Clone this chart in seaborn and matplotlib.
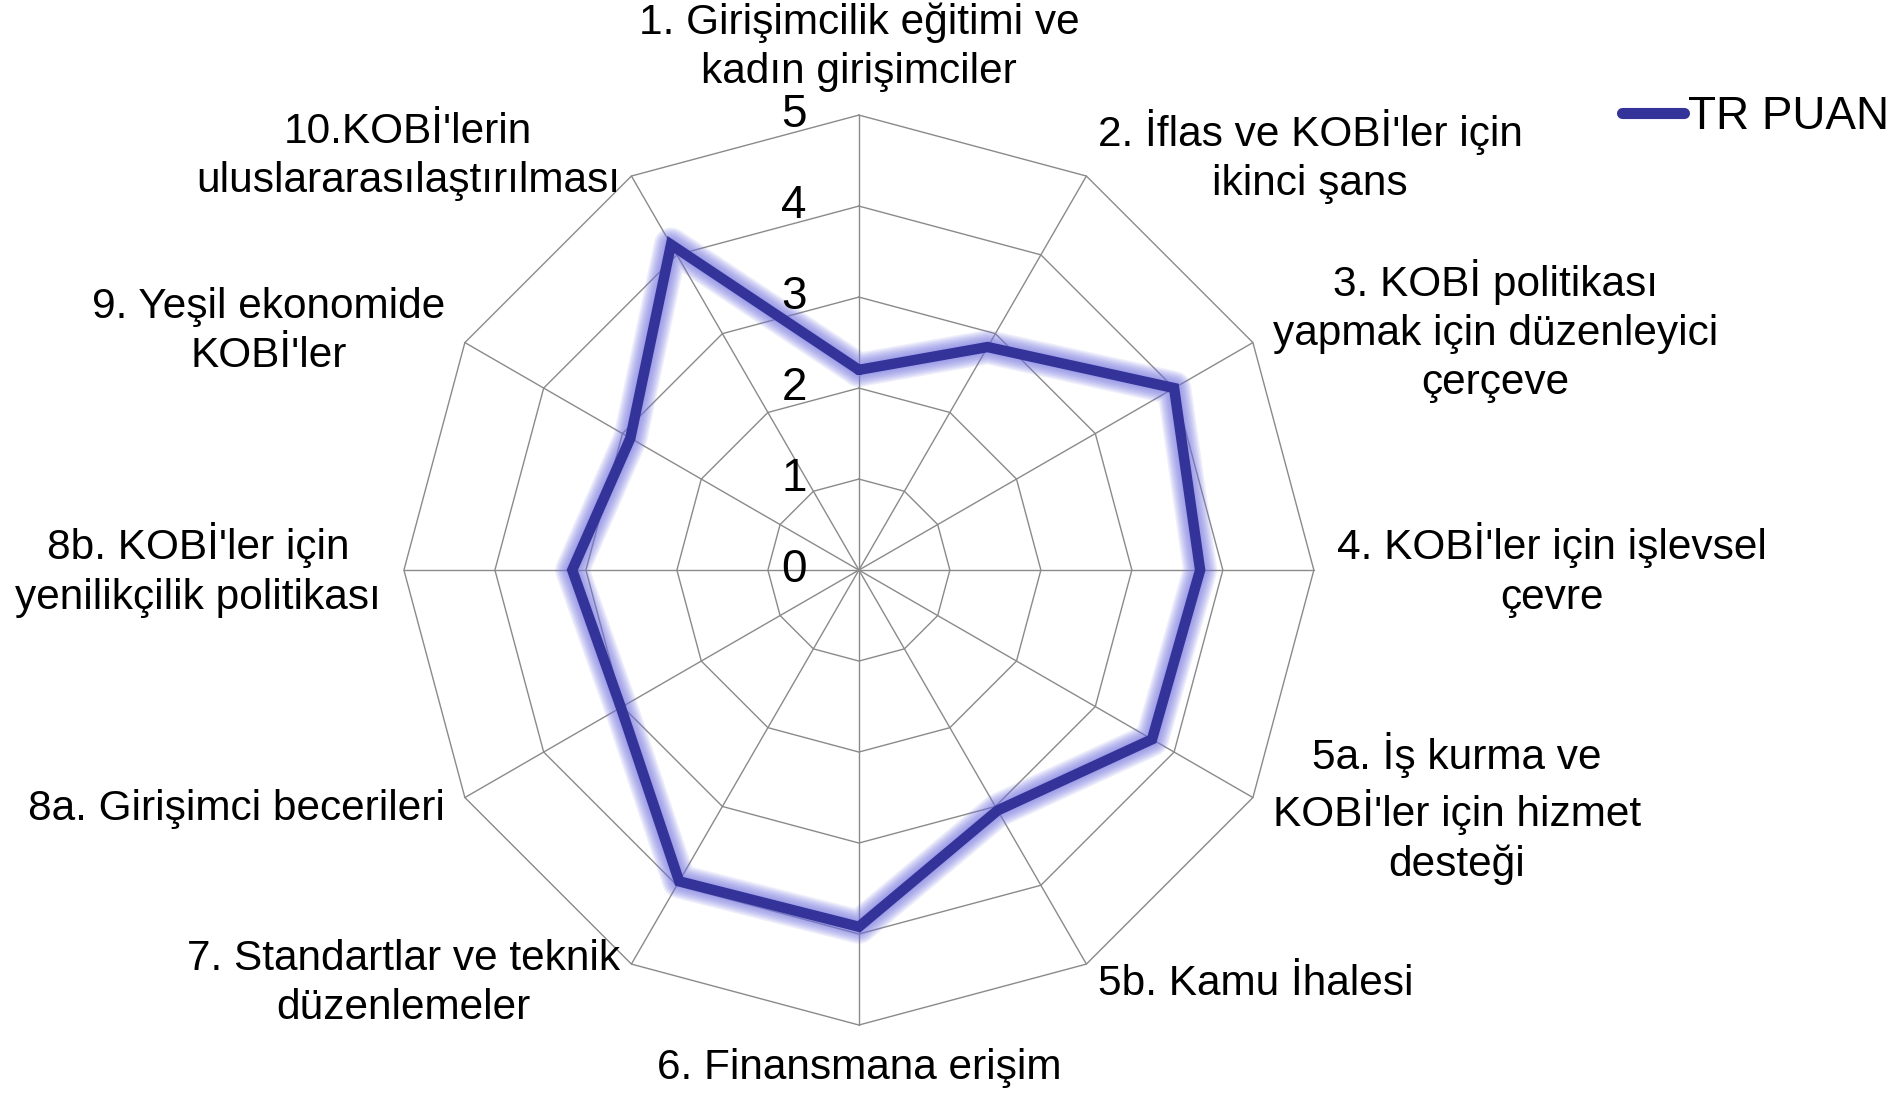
import numpy as np
import matplotlib
matplotlib.use("Agg")
import matplotlib.pyplot as plt
import seaborn as sns
from matplotlib.lines import Line2D

# Chart data
categories = [
    "1. Girişimcilik eğitimi ve\nkadın girişimciler",
    "2. İflas ve KOBİ'ler için\nikinci şans",
    "3. KOBİ politikası\nyapmak için düzenleyici\nçerçeve",
    "4. KOBİ'ler için işlevsel\nçevre",
    "5a. İş kurma ve\nKOBİ'ler için hizmet\ndesteği",
    "5b. Kamu İhalesi",
    "6. Finansmana erişim",
    "7. Standartlar ve teknik\ndüzenlemeler",
    "8a. Girişimci becerileri",
    "8b. KOBİ'ler için\nyenilikçilik politikası",
    "9. Yeşil ekonomide\nKOBİ'ler",
    "10.KOBİ'lerin\nuluslararasılaştırılması",
]
tr_puan = [2.2, 2.83, 4.0, 3.75, 3.72, 3.05, 3.92, 3.95, 3.02, 3.15, 2.9, 4.13]
r_ticks = [0, 1, 2, 3, 4, 5]
series_name = "TR PUAN"

sns.set_theme(style="white")
plt.rcParams["font.family"] = ["Liberation Sans", "DejaVu Sans"]

line_color = "#333399"
glow_color = "#6f6fe0"
grid_color = "#8a8a8a"

n = len(categories)
angles = np.linspace(0, 2 * np.pi, n, endpoint=False)
ang_closed = np.append(angles, angles[0])
val_closed = np.append(tr_puan, tr_puan[0])

fig = plt.figure(figsize=(18.91, 10.95), dpi=100)
ax = fig.add_axes([0.2136, 0.0639, 0.4812, 0.831], projection="polar")
ax.set_theta_zero_location("N")
ax.set_theta_direction(-1)
ax.set_ylim(0, max(r_ticks))
ax.grid(False)
ax.spines["polar"].set_visible(False)
ax.set_xticks([])
ax.set_yticks([])
ax.patch.set_alpha(0)

# polygon rings and spokes
for r in r_ticks[1:]:
    ax.plot(ang_closed, [r] * (n + 1), color=grid_color, lw=1.0, zorder=1, clip_on=False)
for a in angles:
    ax.plot([a, a], [0, max(r_ticks)], color=grid_color, lw=1.0, zorder=1, clip_on=False)

# radial value labels
for r in r_ticks:
    ax.annotate(str(r), xy=(0, r), xytext=(-52, 0), textcoords="offset pixels",
                ha="right", va="center", fontsize=33, color="black", zorder=5)

# glow behind the series line
for k in range(8, 0, -1):
    ax.plot(ang_closed, val_closed, color=glow_color, lw=7 + 2.2 * k, alpha=0.12,
            solid_joinstyle="round", zorder=2, clip_on=False)

sns.lineplot(x=ang_closed, y=val_closed, sort=False, estimator=None, ax=ax,
             color=line_color, lw=7.5, zorder=3, legend=False)
for l in ax.get_lines()[-1:]:
    l.set_solid_joinstyle("miter")
    l.set_clip_on(False)

# category labels
lab_r = max(r_ticks) * 1.05
for a, lab in zip(angles, categories):
    deg = np.degrees(a) % 360
    if np.isclose(deg, 0):
        ha, va = "center", "bottom"
    elif np.isclose(deg, 180):
        ha, va = "center", "top"
    elif deg < 180:
        ha, va = "left", "center"
    else:
        ha, va = "right", "center"
    ax.text(a, lab_r, lab, ha=ha, va=va, multialignment="center",
            fontsize=30.5, color="black", linespacing=1.3, clip_on=False)

handle = Line2D([0], [0], color=line_color, lw=8, solid_capstyle="round")
leg = fig.legend([handle], [series_name], loc="center left", bbox_to_anchor=(0.848, 0.893),
                 frameon=False, fontsize=33, handlelength=1.35, handletextpad=0.1,
                 borderaxespad=0)
for t in leg.get_texts():
    t.set_color("black")

fig.savefig("out.png", dpi=100, facecolor="white")
